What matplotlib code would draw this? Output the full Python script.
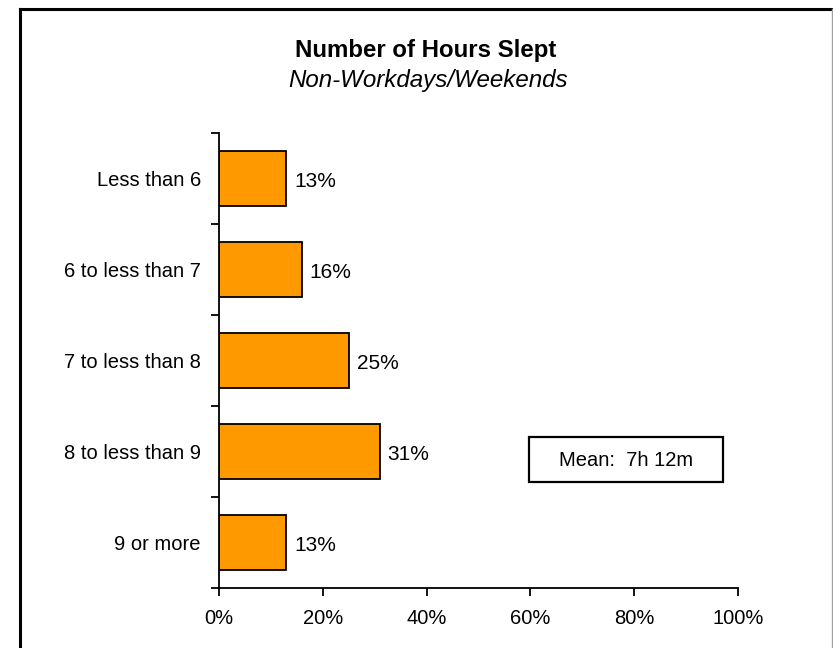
import matplotlib
matplotlib.use("Agg")
import matplotlib.pyplot as plt
from matplotlib.patches import Rectangle
from matplotlib.lines import Line2D

plt.rcParams["font.family"] = ["Liberation Sans", "DejaVu Sans"]

# data
categories = ["Less than 6", "6 to less than 7", "7 to less than 8",
              "8 to less than 9", "9 or more"]
percent = [13, 16, 25, 31, 13]
x_ticks = [0, 20, 40, 60, 80, 100]
title = "Number of Hours Slept"
subtitle = "Non-Workdays/Weekends"
mean_text = "Mean:  7h 12m"

W, H = 833, 648
fig = plt.figure(figsize=(W / 100, H / 100), dpi=100)
fig.patch.set_facecolor("white")

# outer frame (left/top black, right edge thin grey)
fig.add_artist(Line2D([20 / W, 20 / W], [0, 1 - 9 / H], color="black", lw=2.2))
fig.add_artist(Line2D([20 / W, 831 / W], [1 - 9 / H, 1 - 9 / H], color="black", lw=2.2))
fig.add_artist(Line2D([831.5 / W, 831.5 / W], [0, 1 - 9 / H], color="#a0a0a0", lw=1))

ax = fig.add_axes([219 / W, 60 / H, (738 - 219) / W, (588 - 133) / H])
y = list(range(len(categories)))
bars = ax.barh(y, percent, height=0.6, color="#ff9900", edgecolor="black", linewidth=1.3)
ax.set_ylim(len(categories) - 0.5, -0.5)
ax.set_xlim(0, 100)

for b, v in zip(bars, percent):
    ax.text(b.get_width() + 1.5, b.get_y() + b.get_height() / 2 + 0.03, f"{v}%",
            va="center", ha="left", fontsize=15)

ax.set_xticks(x_ticks)
ax.set_xticklabels([f"{t}%" for t in x_ticks], fontsize=14.5)
ax.set_yticks(y)
ax.set_yticklabels(categories, fontsize=14.5)
ax.tick_params(axis="y", length=0, pad=13)
# minor ticks between categories on the y axis
ax.set_yticks([i - 0.5 for i in range(len(categories) + 1)], minor=True)
ax.tick_params(axis="y", which="minor", length=6, width=1.3)
ax.tick_params(axis="x", length=6, width=1.3, pad=9)

for s in ("top", "right"):
    ax.spines[s].set_visible(False)
for s in ("left", "bottom"):
    ax.spines[s].set_linewidth(1.3)

fig.text(426 / W, 1 - 51 / H, title, ha="center", va="center",
         fontsize=17.3, fontweight="bold")
fig.text(428 / W, 1 - 80 / H, subtitle, ha="center", va="center",
         fontsize=17.4, fontstyle="italic")

fig.add_artist(Rectangle((529 / W, 1 - 482 / H), (723 - 529) / W, (482 - 437) / H,
                         transform=fig.transFigure, facecolor="white",
                         edgecolor="black", lw=1.6))
fig.text(626 / W, 1 - 460 / H, mean_text, ha="center", va="center", fontsize=14.5)

fig.savefig("out.png", dpi=100)
